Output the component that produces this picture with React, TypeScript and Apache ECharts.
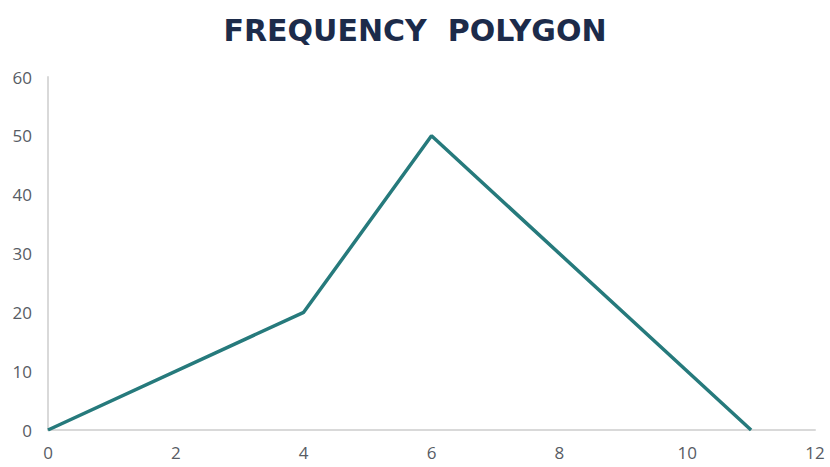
import React, { useEffect, useRef } from "react";
import * as echarts from "echarts";

// Class marks and their frequencies (polygon vertices)
const classMarks: number[] = [0, 4, 6, 11];
const frequencies: number[] = [0, 20, 50, 0];

const xTicks = { min: 0, max: 12, interval: 2 };
const yTicks = { min: 0, max: 60, interval: 10 };

const titleText = "FREQUENCY  POLYGON";

export default function App() {
  const ref = useRef<HTMLDivElement>(null);

  useEffect(() => {
    document.body.style.margin = "0";
    if (!ref.current) return;
    const chart = echarts.init(ref.current, undefined, { renderer: "svg" });
    const points = classMarks.map((x, i) => [x, frequencies[i]]);
    const labelStyle = {
      color: "#575c64",
      fontSize: 17,
      fontFamily: "Open Sans",
    };
    chart.setOption({
      animation: false,
      backgroundColor: "#ffffff",
      title: {
        text: titleText,
        left: "center",
        top: 10,
        textStyle: {
          color: "#1c2b4a",
          fontSize: 30,
          fontWeight: "bold",
          fontFamily: "DejaVu Sans",
        },
      },
      grid: { left: 48, right: 15, top: 77, bottom: 37 },
      xAxis: {
        type: "value",
        min: xTicks.min,
        max: xTicks.max,
        interval: xTicks.interval,
        axisLine: { show: true, lineStyle: { color: "#d9d9d9", width: 2 } },
        axisTick: { show: false },
        splitLine: { show: false },
        axisLabel: { ...labelStyle, margin: 14 },
      },
      yAxis: {
        type: "value",
        min: yTicks.min,
        max: yTicks.max,
        interval: yTicks.interval,
        axisLine: { show: true, lineStyle: { color: "#d9d9d9", width: 2 } },
        axisTick: { show: false },
        splitLine: { show: false },
        axisLabel: { ...labelStyle, margin: 16 },
      },
      series: [
        {
          type: "line",
          data: points,
          symbol: "none",
          lineStyle: { color: "#267a7c", width: 3.5 },
        },
      ],
    });
    return () => chart.dispose();
  }, []);

  return <div ref={ref} style={{ width: 830, height: 467 }} />;
}
